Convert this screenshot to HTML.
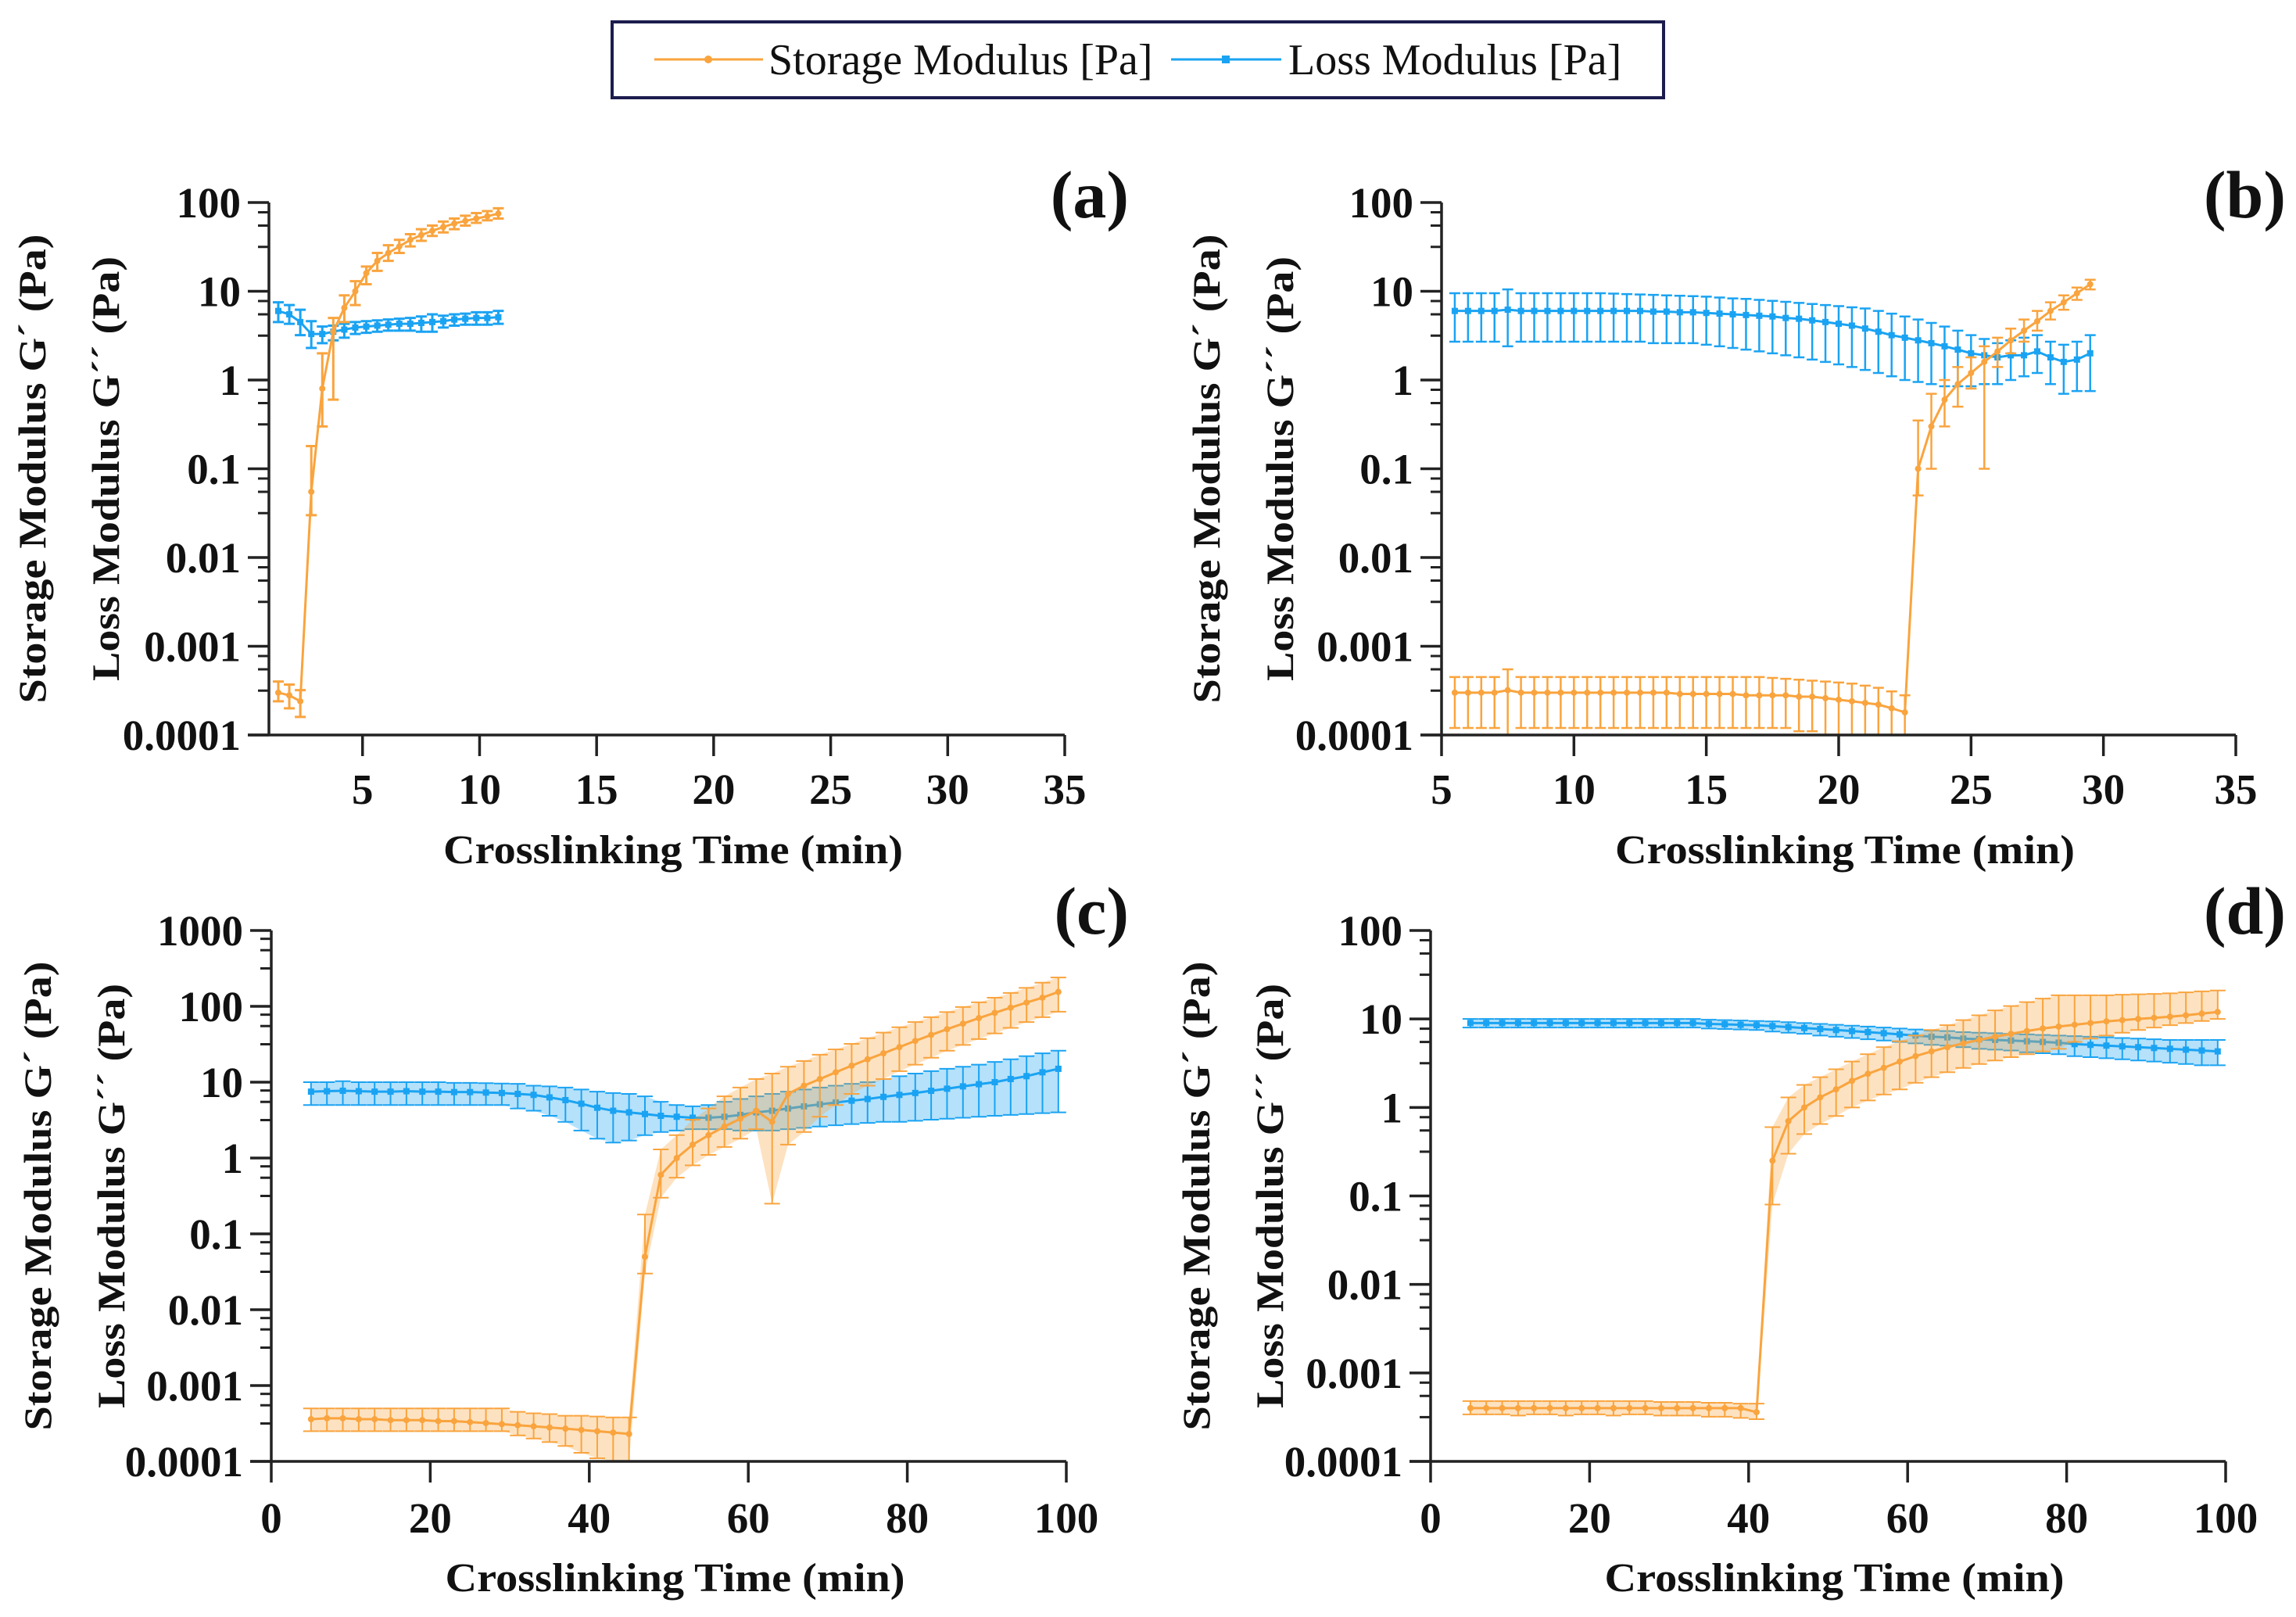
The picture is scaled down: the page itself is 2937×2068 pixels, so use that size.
<!DOCTYPE html>
<html><head><meta charset="utf-8">
<style>
html,body{margin:0;padding:0;background:#fff;}
svg{display:block;}
text{font-family:"Liberation Serif",serif;}
</style></head>
<body>
<svg id="fig" width="2937" height="2068" viewBox="0 0 2937 2068" xmlns="http://www.w3.org/2000/svg">
  <g>
    <rect x="783" y="28" width="1345" height="97" fill="#fff" stroke="#1c1c4e" stroke-width="4"/>
    <g>
      <line x1="837" y1="76" x2="976" y2="76" stroke="#f9a43e" stroke-width="3"/>
      <circle cx="906" cy="76" r="5" fill="#f9a43e"/>
      <text x="983" y="95" font-size="56" fill="#111">Storage Modulus [Pa]</text>
    </g>
    <g>
      <line x1="1498" y1="76" x2="1639" y2="76" stroke="#1aa3f2" stroke-width="3"/>
      <rect x="1563" y="71" width="10" height="10" fill="#1aa3f2"/>
      <text x="1648" y="95" font-size="56" fill="#111">Loss Modulus [Pa]</text>
    </g>
  </g>
</svg>
<script>
// ---------- Panel (a) data ----------
const tA = [1.4,1.87,2.34,2.81,3.28,3.75,4.22,4.69,5.16,5.63,6.1,6.57,7.04,7.51,7.98,8.45,8.92,9.39,9.86,10.33,10.8];
const storA = [.0003,.00028,.00024,.055,.8,3.5,6.5,10,16,22,27,32,38,43,48,53,58,62,66,70,75];
const storALo = [.00024,.0002,.00016,.03,.3,.6,4.5,7,12,17,22,27,32,37,42,46,50,55,59,63,66];
const storAHi = [.0004,.00037,.00032,.18,2,5,9,13,19,27,33,38,44,50,55,61,66,71,76,80,86];
const lossA = [6,5.5,4.5,3.3,3.3,3.5,3.7,3.9,4.0,4.1,4.2,4.3,4.3,4.4,4.5,4.6,4.8,4.9,5,5,5.1];
const lossALo = [4.5,4.3,3.2,2.3,2.6,2.8,3.0,3.3,3.4,3.5,3.6,3.6,3.6,3.5,3.5,3.9,4.1,4.2,4.2,4.2,4.3];
const lossAHi = [7.5,7,6.2,4.6,4,4.1,4.3,4.5,4.6,4.7,4.8,4.9,5,5.2,5.5,5.3,5.5,5.6,5.8,5.8,6];

// ---------- Panel (b) data ----------
const tB = [5.5,6,6.5,7,7.5,8,8.5,9,9.5,10,10.5,11,11.5,12,12.5,13,13.5,14,14.5,15,15.5,16,16.5,17,17.5,18,18.5,19,19.5,20,20.5,21,21.5,22,22.5,23,23.5,24,24.5,25,25.5,26,26.5,27,27.5,28,28.5,29,29.5];
const storB = [.0003,.0003,.0003,.0003,.00032,.0003,.0003,.0003,.0003,.0003,.0003,.0003,.0003,.0003,.0003,.0003,.0003,.00029,.00029,.00029,.00029,.00029,.00028,.00028,.00028,.00028,.00027,.00027,.00026,.00025,.00024,.00023,.00022,.0002,.00018,.1,.3,.6,.9,1.2,1.6,2.1,2.8,3.6,4.6,6,7.5,9.5,12];
const storBLo = [.00012,.00012,.00012,.00012,.0001,.00012,.00012,.00012,.00012,.00012,.00012,.00012,.00012,.00012,.00012,.00012,.00012,.00012,.00012,.00012,.00012,.00012,.00012,.00012,.00012,.00012,.00011,.00011,.0001,.0001,.0001,.0001,.0001,.0001,.0001,.05,.1,.3,.5,.8,.1,1.4,2,2.7,3.6,4.8,6.2,8,10.5];
const storBHi = [.00045,.00045,.00045,.00045,.00055,.00045,.00045,.00045,.00045,.00045,.00045,.00045,.00045,.00045,.00045,.00045,.00045,.00045,.00045,.00045,.00045,.00045,.00045,.00045,.00044,.00043,.00042,.00041,.0004,.00039,.00038,.00036,.00034,.00031,.00028,.35,.7,1,1.4,1.8,2.4,3,3.8,4.8,6,7.5,9,11,13.5];
const lossB = [6,6,6,6,6.2,6,6,6,6,6,6,6,6,6,6,5.9,5.9,5.8,5.8,5.7,5.6,5.5,5.4,5.3,5.2,5,4.9,4.7,4.5,4.3,4.1,3.8,3.5,3.2,3,2.8,2.6,2.4,2.2,2,1.9,1.8,1.9,1.9,2.1,1.8,1.6,1.7,2];
const lossBLo = [2.7,2.7,2.7,2.7,2.4,2.7,2.7,2.7,2.7,2.7,2.7,2.7,2.7,2.7,2.7,2.6,2.6,2.6,2.6,2.5,2.4,2.3,2.2,2.1,2,1.9,1.8,1.7,1.6,1.5,1.4,1.3,1.2,1.1,1.0,0.95,0.9,0.85,0.85,0.85,0.9,0.9,1.0,1.1,1.2,0.9,0.7,0.75,0.75];
const lossBHi = [9.5,9.5,9.5,9.5,10.5,9.5,9.5,9.5,9.5,9.5,9.5,9.5,9.4,9.3,9.2,9.1,9,8.9,8.8,8.7,8.5,8.3,8.2,8.0,7.8,7.6,7.4,7.2,7,6.8,6.6,6.4,6.0,5.6,5.2,4.8,4.4,4.0,3.6,3.2,2.9,2.6,2.8,3.0,3.2,2.7,2.5,2.7,3.2];

// ---------- Panels (c) and (d) time points ----------
const tCD = [5,7,9,11,13,15,17,19,21,23,25,27,29,31,33,35,37,39,41,43,45,47,49,51,53,55,57,59,61,63,65,67,69,71,73,75,77,79,81,83,85,87,89,91,93,95,97,99];

// ---------- Panel (c) data ----------
const storC = [.00036,.00037,.00037,.00036,.00036,.00035,.00035,.00035,.00034,.00034,.00033,.00032,.00031,.0003,.00029,.00028,.00027,.00026,.00025,.00024,.00023,.05,.6,1.0,1.5,2.0,2.6,3.3,4.2,3.0,7,9,11,13.5,16.5,20,24,29,35,42,50,59,70,82,96,112,130,155];
const storCLo = [.00025,.00025,.00025,.00025,.00025,.00025,.00025,.00025,.00025,.00025,.00025,.00025,.00025,.00022,.0002,.00018,.00016,.00013,.00011,.0001,.0001,.03,.3,.55,.8,1.1,1.4,1.8,2.4,.25,1.5,2.2,3.5,5,7,9,11,14,17,21,26,31,37,44,52,62,72,85];
const storCHi = [.0005,.0005,.0005,.0005,.0005,.0005,.0005,.0005,.0005,.0005,.0005,.0005,.0005,.00045,.00043,.00042,.0004,.0004,.00039,.00038,.00038,.18,1.3,2.0,3.2,4.5,6.5,8.5,11,13,16,19,23,27,32,38,45,53,62,72,84,98,113,130,150,175,205,240];
const lossC = [7.5,7.6,7.7,7.6,7.5,7.5,7.6,7.5,7.5,7.4,7.4,7.3,7.2,7,6.8,6.3,5.8,5.2,4.6,4.2,4,3.8,3.6,3.5,3.4,3.4,3.5,3.7,4,4.2,4.5,4.8,5.1,5.4,5.7,6,6.4,6.8,7.2,7.7,8.2,8.8,9.4,10,11,12,13.5,15];
const lossCLo = [5,5,5,5,5,5,5,5,5,5,5,5,5,4.5,4.2,3.6,3,2.3,1.8,1.6,1.7,2,2.2,2.3,2.4,2.4,2.4,2.3,2.3,2.3,2.4,2.5,2.6,2.7,2.8,2.9,3,3,3.1,3.2,3.3,3.4,3.5,3.6,3.7,3.8,3.9,4];
const lossCHi = [10,10,10.3,10,10,10,10,10,10,9.8,9.8,9.7,9.6,9.5,9,8.8,8.5,8,7.5,7.2,7,6.5,5.5,5,4.8,5,5.5,6,6.5,7,7.5,8,8.5,9,9.5,10,11,12,13,14,15,16,17,18.5,20,22,24,26];

// ---------- Panel (d) data ----------
const storD = [.0004,.0004,.0004,.0004,.0004,.0004,.0004,.0004,.0004,.0004,.0004,.0004,.0004,.0004,.0004,.0004,.0004,.0004,.00036,.25,.7,1.0,1.3,1.6,2.0,2.4,2.8,3.3,3.8,4.3,4.8,5.3,5.8,6.3,6.8,7.3,7.8,8.2,8.6,9,9.4,9.7,10,10.3,10.6,11,11.5,12];
const storDLo = [.00034,.00034,.00034,.00033,.00034,.00034,.00033,.00034,.00034,.00033,.00034,.00034,.00033,.00033,.00033,.00032,.00032,.00031,.0003,.08,.3,.5,.65,.8,1,1.2,1.4,1.6,1.9,2.2,2.5,2.8,3.1,3.4,3.7,4,4.3,4.6,5.5,6,6.5,7,7.5,8,8.5,9,9.5,10];
const storDHi = [.00048,.00048,.00048,.00048,.00048,.00048,.00048,.00048,.00048,.00048,.00048,.00048,.00047,.00047,.00047,.00046,.00046,.00045,.00045,.6,1.3,1.8,2.2,2.7,3.3,4,4.8,5.6,6.5,7.5,8.5,9.7,11,12.5,14,15.5,17,18.5,18.5,18.5,18.5,18.8,19,19.2,19.5,20,20.5,21];
const lossD = [9,9,9,9,9,9,9,9,9,9,9,9,9,9,9,8.8,8.7,8.6,8.5,8.3,8.1,7.9,7.7,7.5,7.3,7.1,6.9,6.7,6.5,6.3,6.2,6.0,5.9,5.8,5.7,5.6,5.5,5.4,5.2,5.1,5.0,4.9,4.8,4.7,4.6,4.5,4.4,4.3];
const lossDLo = [8,8,8,8,8,8,8,8,8,8,8,8,8,8,8,7.8,7.7,7.6,7.5,7.2,7,6.8,6.5,6.3,6.1,5.9,5.7,5.5,5.3,5.1,5.0,4.8,4.6,4.5,4.4,4.2,4.1,4.0,3.8,3.7,3.6,3.5,3.4,3.3,3.2,3.1,3.0,3.0];
const lossDHi = [10,10,10,10,10,10,10,10,10,10,10,10,10,10,10,9.8,9.7,9.6,9.5,9.4,9.2,9,8.8,8.6,8.4,8.2,8,7.8,7.6,7.4,7.3,7.1,7,6.9,6.8,6.7,6.6,6.5,6.4,6.3,6.2,6.1,6.0,5.9,5.8,5.8,5.8,5.8];

// ---------- tick labels ----------
const xTicksAB = [5,10,15,20,25,30,35];
const xTicksCD = [0,20,40,60,80,100];
const yLabels3 = ["1000","100","10","1","0.1","0.01","0.001","0.0001"];
const yLabels2 = ["100","10","1","0.1","0.01","0.001","0.0001"];

const NS = "http://www.w3.org/2000/svg";
const svg = document.getElementById("fig");
const ORANGE = "#f9a43e", BLUE = "#1aa3f2";
let clipId = 0;

function el(tag, attrs, parent) {
  const e = document.createElementNS(NS, tag);
  for (const k in attrs) e.setAttribute(k, attrs[k]);
  parent.appendChild(e);
  return e;
}

function drawPanel(cfg) {
  const g = el("g", {}, svg);
  
  
  const sx = v => cfg.x0 + (v - cfg.xmin) / (cfg.xmax - cfg.xmin) * (cfg.x1 - cfg.x0);
  const sy = v => cfg.yBot - (Math.log10(Math.max(v, 1e-9)) - cfg.logMin) / (cfg.logMax - cfg.logMin) * (cfg.yBot - cfg.yTop);

  clipId++;
  const defs = el("defs", {}, g);
  const cp = el("clipPath", {id: "clip" + clipId}, defs);
  el("rect", {x: cfg.x0, y: cfg.yTop - 30, width: cfg.x1 - cfg.x0 + 10, height: cfg.yBot - cfg.yTop + 30}, cp);

  const data = el("g", {"clip-path": "url(#clip" + clipId + ")"}, g);
  
  
  cfg.series.forEach(s => {
    const sg = el("g", {}, data);
    
    
    if (cfg.band) {
      let up = "", dn = "";
      s.t.forEach((t, i) => { up += (i ? "L" : "M") + sx(t) + "," + sy(s.hi[i]); });
      for (let i = s.t.length - 1; i >= 0; i--) dn += "L" + sx(s.t[i]) + "," + sy(s.lo[i]);
      const band = el("path", {d: up + dn + "Z", fill: s.color, "fill-opacity": 0.32, stroke: "none"}, sg);
      
      
    }
    const cw = cfg.cap;
    s.t.forEach((t, i) => {
      const x = sx(t), ylo = sy(s.lo[i]), yhi = sy(s.hi[i]);
      const eb = el("path", {d: `M${x},${ylo}L${x},${yhi}M${x - cw},${ylo}L${x + cw},${ylo}M${x - cw},${yhi}L${x + cw},${yhi}`,
        stroke: s.color, "stroke-width": cfg.ebw, fill: "none"}, sg);
      
      
    });
    let d = "";
    s.t.forEach((t, i) => { d += (i ? "L" : "M") + sx(t) + "," + sy(s.v[i]); });
    const ln = el("path", {d: d, stroke: s.color, "stroke-width": 3, fill: "none"}, sg);
    
    
    s.t.forEach((t, i) => {
      const mk = s.square
        ? el("rect", {x: sx(t) - 4, y: sy(s.v[i]) - 4, width: 8, height: 8, fill: s.color}, sg)
        : el("circle", {cx: sx(t), cy: sy(s.v[i]), r: 4, fill: s.color}, sg);
      
      
    });
  });

  const ax = el("g", {stroke: "#222", "stroke-width": 3.5, fill: "none"}, g);
  
  
  el("line", {x1: cfg.x0, y1: cfg.yTop, x2: cfg.x0, y2: cfg.yBot}, ax);
  el("line", {x1: cfg.x0 - 27, y1: cfg.yBot, x2: cfg.x1, y2: cfg.yBot}, ax);
  const dec = cfg.logMax - cfg.logMin;
  const decPx = (cfg.yBot - cfg.yTop) / dec;
  for (let k = 0; k <= dec; k++) {
    const y = cfg.yTop + k * decPx;
    el("line", {x1: cfg.x0 - 27, y1: y, x2: cfg.x0, y2: y}, ax);
    const lab = el("text", {x: cfg.x0 - 36, y: y + 19, "text-anchor": "end", "font-size": 55, "font-weight": "bold", fill: "#111", stroke: "none"}, g);
    lab.textContent = cfg.yLabels[k];
    
    
    if (k < dec) {
      [0.11, 0.26, 0.5].forEach(f => {
        const ym = y + f * decPx;
        el("line", {x1: cfg.x0 - 14, y1: ym, x2: cfg.x0, y2: ym, "stroke-width": 3}, ax);
      });
    }
  }
  cfg.xTicks.forEach(v => {
    const x = sx(v);
    el("line", {x1: x, y1: cfg.yBot, x2: x, y2: cfg.yBot + 27}, ax);
    const lab = el("text", {x: x, y: cfg.xLabY, "text-anchor": "middle", "font-size": 55, "font-weight": "bold", fill: "#111"}, g);
    lab.textContent = v;
    
    
  });
  const xt = el("text", {x: (cfg.x0 + cfg.x1) / 2 + 8, y: cfg.xTitleY, "text-anchor": "middle", "font-size": 52, "font-weight": "bold", fill: "#111", textLength: 588, lengthAdjust: "spacingAndGlyphs"}, g);
  xt.textContent = "Crosslinking Time (min)";
  
  
  const yc = (cfg.yTop + cfg.yBot) / 2;
  const y1 = el("text", {x: 0, y: 0, "text-anchor": "middle", "font-size": 50, "font-weight": "bold", fill: "#111", textLength: 600, lengthAdjust: "spacingAndGlyphs",
    transform: `translate(${cfg.yt1 + 17},${yc}) rotate(-90)`}, g);
  y1.textContent = "Storage Modulus G\u00B4 (Pa)";
  
  
  const y2 = el("text", {x: 0, y: 0, "text-anchor": "middle", "font-size": 50, "font-weight": "bold", fill: "#111", textLength: 543, lengthAdjust: "spacingAndGlyphs",
    transform: `translate(${cfg.yt2 + 17},${yc}) rotate(-90)`}, g);
  y2.textContent = "Loss Modulus G\u00B4\u00B4 (Pa)";
  
  
  const pl = el("text", {x: cfg.letX, y: cfg.letY, "text-anchor": "end", "font-size": 86, "font-weight": "bold", fill: "#111"}, g);
  pl.textContent = "(" + cfg.letter + ")";
  
  
}

drawPanel({letter: "a", x0: 344, x1: 1362, xmin: 1, xmax: 35, yTop: 259, yBot: 940, logMin: -4, logMax: 2,
  xTicks: xTicksAB, yLabels: yLabels2, xLabY: 1028, xTitleY: 1104, yt1: 41, yt2: 135, letX: 1444, letY: 278, cap: 7, ebw: 3, band: false,
  series: [
    {name: "loss-modulus-a", t: tA, v: lossA, lo: lossALo, hi: lossAHi, color: BLUE, square: true},
    {name: "storage-modulus-a", t: tA, v: storA, lo: storALo, hi: storAHi, color: ORANGE}]});
drawPanel({letter: "b", x0: 1844, x1: 2860, xmin: 5, xmax: 35, yTop: 259, yBot: 940, logMin: -4, logMax: 2,
  xTicks: xTicksAB, yLabels: yLabels2, xLabY: 1028, xTitleY: 1104, yt1: 1543, yt2: 1637, letX: 2924, letY: 278, cap: 7, ebw: 2.5, band: false,
  series: [
    {name: "loss-modulus-b", t: tB, v: lossB, lo: lossBLo, hi: lossBHi, color: BLUE, square: true},
    {name: "storage-modulus-b", t: tB, v: storB, lo: storBLo, hi: storBHi, color: ORANGE}]});
drawPanel({letter: "c", x0: 347, x1: 1364, xmin: 0, xmax: 100, yTop: 1190, yBot: 1869, logMin: -4, logMax: 3,
  xTicks: xTicksCD, yLabels: yLabels3, xLabY: 1960, xTitleY: 2035, yt1: 48, yt2: 142, letX: 1444, letY: 1194, cap: 10, ebw: 2, band: true,
  series: [
    {name: "loss-modulus-c", t: tCD, v: lossC, lo: lossCLo, hi: lossCHi, color: BLUE, square: true},
    {name: "storage-modulus-c", t: tCD, v: storC, lo: storCLo, hi: storCHi, color: ORANGE}]});
drawPanel({letter: "d", x0: 1830, x1: 2847, xmin: 0, xmax: 100, yTop: 1190, yBot: 1869, logMin: -4, logMax: 2,
  xTicks: xTicksCD, yLabels: yLabels2, xLabY: 1960, xTitleY: 2035, yt1: 1530, yt2: 1624, letX: 2924, letY: 1194, cap: 10, ebw: 2, band: true,
  series: [
    {name: "loss-modulus-d", t: tCD, v: lossD, lo: lossDLo, hi: lossDHi, color: BLUE, square: true},
    {name: "storage-modulus-d", t: tCD, v: storD, lo: storDLo, hi: storDHi, color: ORANGE}]});
</script>
</body></html>
